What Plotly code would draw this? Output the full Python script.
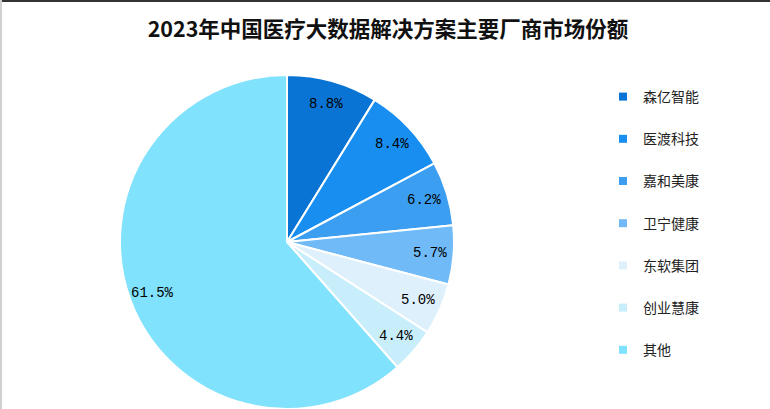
import math
import plotly.graph_objects as go

title_text = "2023年中国医疗大数据解决方案主要厂商市场份额"
companies = ["森亿智能", "医渡科技", "嘉和美康", "卫宁健康", "东软集团", "创业慧康", "其他"]
shares = [8.8, 8.4, 6.2, 5.7, 5.0, 4.4, 61.5]
colors = ["#0A74D4", "#188EF0", "#3C9EF0", "#70BAF8", "#DEF0FC", "#C8EEFC", "#80E2FC"]

W, H = 770, 409
# pie domain (paper fractions)
dom_x = [120 / W, 454 / W]
dom_y = [0, (H - 75) / H]

fig = go.Figure()
fig.add_trace(go.Pie(
    labels=companies,
    values=shares,
    sort=False,
    direction="clockwise",
    rotation=0,
    marker=dict(colors=colors, line=dict(color="white", width=2)),
    textinfo="none",
    domain=dict(x=dom_x, y=dom_y),
    showlegend=False,
    hoverinfo="label+percent",
))

# value labels placed along each slice's mid-angle (derived from the data)
cx_px = (dom_x[0] + dom_x[1]) / 2 * W
cy_px = (dom_y[0] + dom_y[1]) / 2 * H
R_px = min((dom_x[1] - dom_x[0]) * W, (dom_y[1] - dom_y[0]) * H) / 2
total = sum(shares)
cum = 0.0
annotations = []
for v in shares:
    mid = (cum + v / 2) / total * 2 * math.pi
    cum += v
    r = 0.86 * R_px
    px = cx_px + r * math.sin(mid)
    py = cy_px + r * math.cos(mid)
    annotations.append(dict(
        x=px / W, y=py / H, xref="paper", yref="paper",
        text=f"{v:.1f}%", showarrow=False, xanchor="center", yanchor="middle",
        font=dict(family="Liberation Mono", size=14, color="black"),
    ))

for name, col in zip(companies, colors):
    fig.add_trace(go.Scatter(
        x=[None], y=[None], mode="markers", name=name,
        legendgroup=name,
        marker=dict(symbol="square", size=8, color=col),
    ))

fig.update_layout(
    width=W, height=H,
    margin=dict(l=0, r=0, t=0, b=0),
    paper_bgcolor="white", plot_bgcolor="white",
    title=dict(text=title_text, x=388 / W, xanchor="center", y=1 - 29 / H, yanchor="middle",
               font=dict(family="Noto Sans CJK SC", size=21.5, color="#111", weight="bold")),
    xaxis=dict(visible=False), yaxis=dict(visible=False),
    legend=dict(x=603 / W, xanchor="left", y=(H - 81) / H, yanchor="top",
                font=dict(family="Noto Sans CJK SC", size=14, color="#222"),
                tracegroupgap=21, bgcolor="rgba(0,0,0,0)"),
    annotations=annotations,
    shapes=[
        dict(type="rect", xref="paper", yref="paper", x0=0, x1=1, y0=1 - 2 / H, y1=1,
             fillcolor="#333", line=dict(width=0)),
        dict(type="rect", xref="paper", yref="paper", x0=0, x1=2 / W, y0=0, y1=1,
             fillcolor="#d0d0d0", line=dict(width=0)),
    ],
)

fig.write_html("out.html", config={"displayModeBar": False},
               post_script="document.body.style.margin='0';")
